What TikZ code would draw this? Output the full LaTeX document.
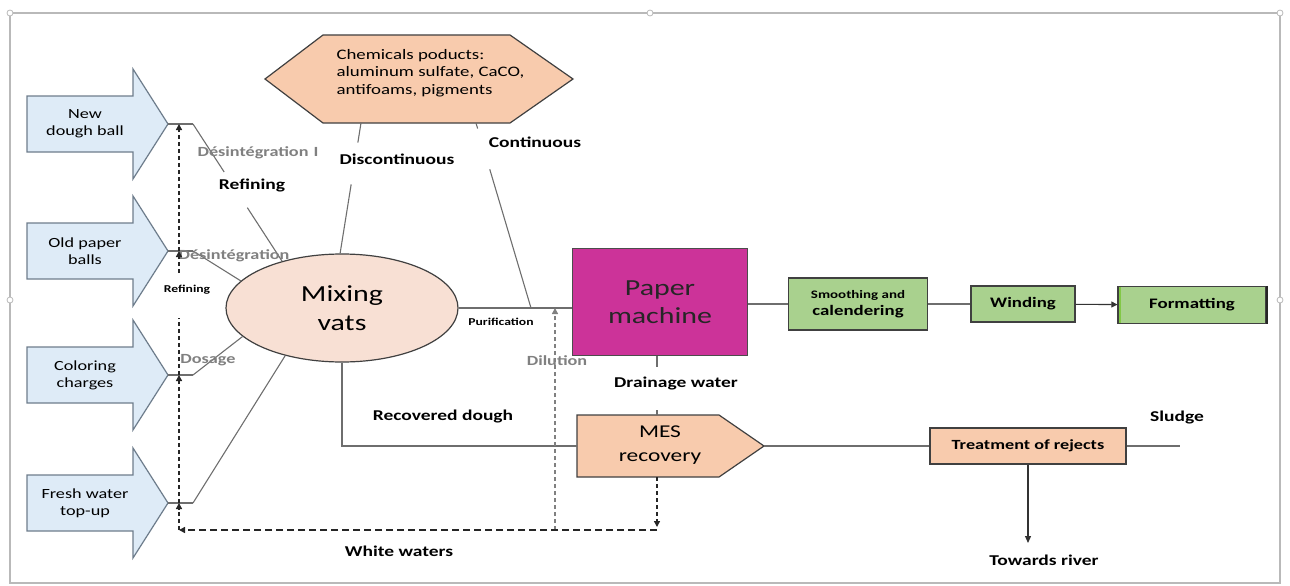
\documentclass[tikz,border=0pt]{standalone}
\usepackage{fontspec}
\setmainfont[FakeStretch=1.3]{Carlito}
\usetikzlibrary{calc,shapes.geometric,arrows.meta}

\definecolor{inblue}{RGB}{222,235,247}
\definecolor{inborder}{RGB}{110,125,140}
\definecolor{peach}{RGB}{248,203,173}
\definecolor{vatpink}{RGB}{248,224,212}
\definecolor{pmcolor}{RGB}{204,51,153}
\definecolor{stepgreen}{RGB}{169,209,142}
\definecolor{brightgreen}{RGB}{130,200,70}
\definecolor{linegray}{RGB}{110,110,110}
\definecolor{labgray}{RGB}{128,128,128}

\begin{document}
\begin{tikzpicture}[x=1pt,y=-1pt,
    flow/.style={draw=linegray, line width=1.1pt},
    waters/.style={draw=black!85, line width=1.8pt, dash pattern=on 7pt off 4pt},
    wup/.style={draw=black!85, line width=1.4pt, dash pattern=on 4pt off 3pt},
    wtip/.style={-{Triangle[width=6pt,length=6pt]}},
    inarrow/.style={draw=inborder, fill=inblue, line width=1.2pt},
    intext/.style={font=\fontsize{14}{17}\selectfont, align=center},
    lab/.style={font=\fontsize{15}{18}\selectfont\bfseries, inner sep=1pt},
    smalllab/.style={font=\fontsize{10.5}{12}\selectfont\bfseries, inner sep=1pt},
    glab/.style={font=\fontsize{14}{17}\selectfont\bfseries, text=labgray, inner sep=1pt},
    stepbox/.style={draw=black!75, fill=stepgreen, line width=1.2pt, font=\fontsize{14.5}{17}\selectfont\bfseries, align=center, inner sep=0pt},
    orangebox/.style={draw=black!75, fill=peach, line width=1.2pt},
    frame/.style={draw=gray!55, line width=1.5pt}]
  \useasboundingbox (0,0) rectangle (1290,586);

  % frame with handles
  \draw[frame] (10,13) rectangle (1280,583);
  \foreach \hx/\hy in {10/13, 650/13, 1280/13, 10/300, 1280/300}
    \draw[frame, line width=0.8pt, fill=white] (\hx,\hy) circle[radius=3pt];

  % raw materials
  \foreach \name/\ymid/\txt in {dough/124/{New\\dough ball}, oldpaper/251/{Old paper\\balls},
      coloring/375/{Coloring\\charges}, freshwater/503/{Fresh water\\top-up}}{
    \draw[inarrow] (27,\ymid-28) -- (133,\ymid-28) -- (133,\ymid-55) -- (168,\ymid)
      -- (133,\ymid+55) -- (133,\ymid+28) -- (27,\ymid+28) -- cycle;
    \node[intext] (\name) at (85,\ymid) {\txt};
    \coordinate (\name-tip) at (168,\ymid);
    \coordinate (\name-j) at (193,\ymid);
    \coordinate (\name-w) at (179,\ymid);
    \draw[flow] (\name-tip) -- (\name-j);
  }

  % mixing vats
  \node[ellipse, draw=black!75, fill=vatpink, line width=1.2pt, minimum width=232pt,
    minimum height=108pt, inner sep=0pt, font=\fontsize{23}{29}\selectfont, align=center]
    (mix) at (342,308) {Mixing\\vats};

  \draw[flow] (dough-j) -- ($(dough-j)!0.35!(mix.142)$);
  \draw[flow] ($(dough-j)!0.61!(mix.142)$) -- (mix.142);
  \draw[flow] (oldpaper-j) -- (mix.165);
  \draw[flow] (coloring-j) -- (mix.196);
  \draw[flow] (freshwater-j) -- (mix.220);

  \node[glab] (desint1) at (258,153) {Désintégration\hspace{5pt}I};
  \node[lab] (refine1) at (252,185) {Refining};
  \node[glab] (desint2) at (234,256) {Désintégration};
  \node[smalllab] (refine2) at (187,290) {Refining};
  \node[glab] (dosage) at (208,360) {Dosage};

  % chemicals
  \draw[orangebox] (265,79) -- (323,35) -- (510,35) -- (573,79) -- (510,123) -- (323,123) -- cycle;
  \node[font=\fontsize{14.5}{17.5}\selectfont, align=left, anchor=west] (chem) at (333,73)
    {Chemicals poducts:\\aluminum sulfate, CaCO,\\antifoams, pigments};
  \coordinate (chem-dis) at (361,123);
  \coordinate (chem-con) at (476,123);
  \coordinate (pur-j) at (531,308);

  \draw[flow] (chem-dis) -- ($(chem-dis)!0.15!(mix.92)$);
  \draw[flow] ($(chem-dis)!0.47!(mix.92)$) -- (mix.92);
  \node[lab] (discont) at (397,159) {Discontinuous};
  \draw[flow] (chem-con) -- ($(chem-con)!0.03!(pur-j)$);
  \draw[flow] ($(chem-con)!0.25!(pur-j)$) -- (pur-j);
  \node[lab] (cont) at (535,142) {Continuous};

  % paper machine and finishing
  \node[draw=black!70, fill=pmcolor, line width=1.5pt, minimum width=175pt, minimum height=107pt,
    font=\fontsize{23}{28}\selectfont, align=center, text=black!85] (pm) at (660,302) {Paper\\machine};
  \draw[flow] (mix.east) -- (pm.west |- mix.east);
  \node[smalllab] (purif) at (501,322) {Purification};

  \node[stepbox, minimum width=139pt, minimum height=52pt] (smooth) at (858,304)
    {{\fontsize{11.5}{14}\selectfont Smoothing and}\\calendering};
  \node[stepbox, minimum width=104pt, minimum height=36pt] (wind) at (1023,304) {Winding};
  \node[stepbox, minimum width=148pt, minimum height=37pt] (format) at (1192,305) {Formatting};
  \draw[brightgreen, line width=2.5pt] ([xshift=2.5pt,yshift=-1.5pt]format.north west)
    -- ([xshift=2.5pt,yshift=1.5pt]format.south west);
  \draw[black!85, line width=2.2pt] (format.north east) -- (format.south east);
  \draw[flow] (pm.east |- smooth) -- (smooth);
  \draw[flow] (smooth) -- (wind);
  \draw[flow, draw=black!80, -{Triangle[width=6pt,length=6pt]}] (wind) -- (format);

  % MES recovery
  \draw[orangebox] (577,415) -- (719,415) -- (764,446) -- (719,477) -- (577,477) -- cycle;
  \node[font=\fontsize{18}{24}\selectfont, align=center] (mes) at (660,445) {MES\\recovery};
  \coordinate (mes-n) at (657,415);
  \coordinate (mes-s) at (657,477);
  \coordinate (mes-w) at (577,446);
  \coordinate (mes-e) at (764,446);

  \draw[flow] (pm.south -| mes-n) -- ++(0,11);
  \draw[flow] (mes-n) -- ++(0,-5);
  \node[lab] (drain) at (676,384) {Drainage water};

  \draw[flow] (mix.south) |- (mes-w);
  \node[lab] (recdough) at (443,417) {Recovered dough};

  % white waters
  \coordinate (ww-corner) at (179,530);
  \coordinate (dil-b) at (555,530);
  \draw[wup, draw=gray, wtip] (dil-b) -- (dil-b |- pur-j);
  \node[glab] (dilution) at (557,361) {Dilution};
  \draw[wup, wtip] (mes-s) -- (657,527);
  \draw[waters, wtip] (657,530) -- (ww-corner);
  \draw[wup, wtip] (ww-corner) -- (freshwater-w);
  \draw[wup, wtip] (freshwater-w) -- (coloring-w);
  \draw[wup] (coloring-w) -- (179,318);
  \draw[wup, wtip] (179,273) -- (oldpaper-w);
  \draw[wup, wtip] (oldpaper-w) -- (dough-w);
  \node[lab] (white) at (399,551) {White waters};

  % rejects
  \node[orangebox, minimum width=196pt, minimum height=36pt, inner sep=0pt,
    font=\fontsize{14}{17}\selectfont\bfseries] (treat) at (1028,446) {Treatment of rejects};
  \draw[flow] (mes-e) -- (treat);
  \coordinate (sludge-end) at (1180,446);
  \draw[flow] (treat) -- (sludge-end);
  \node[lab] (sludge) at (1177,418) {Sludge};
  \coordinate (river) at (1028,543);
  \draw[line width=1.2pt, draw=black!80, -{Triangle[width=6pt,length=7pt]}] (treat) -- (river);
  \node[lab] (towards) at (1044,560) {Towards river};
\end{tikzpicture}
\end{document}
